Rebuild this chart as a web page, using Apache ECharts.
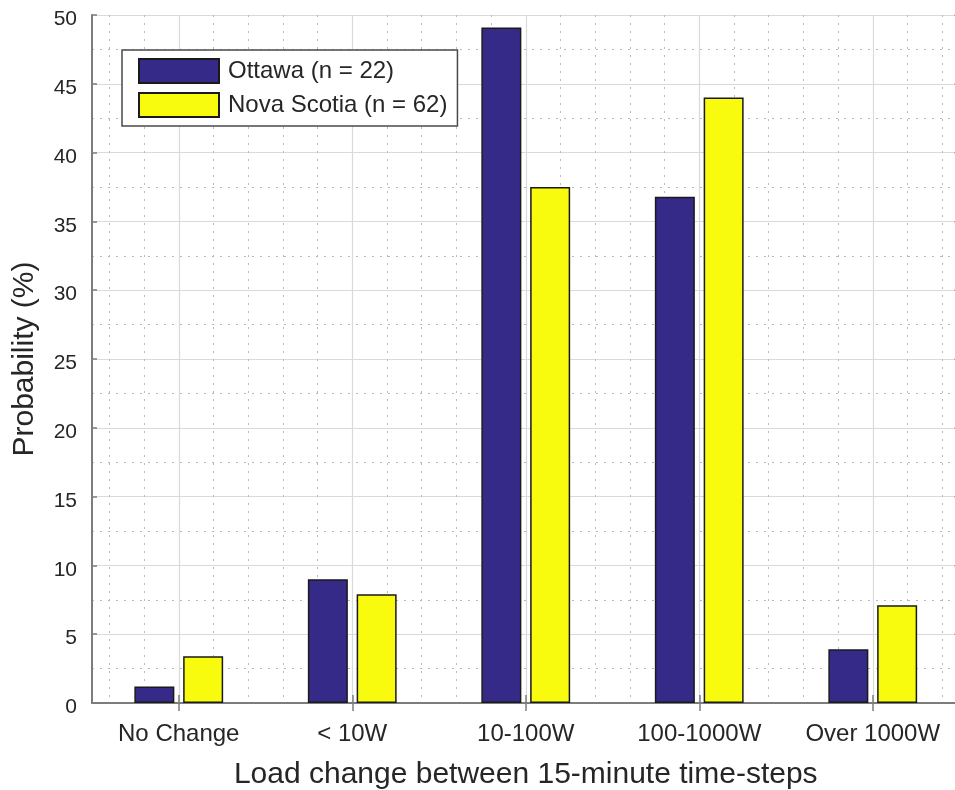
<!DOCTYPE html>
<html>
<head>
<meta charset="utf-8">
<script src="https://cdn.jsdelivr.net/npm/echarts@6/dist/echarts.min.js"></script>
<style>
html,body{margin:0;padding:0;background:#fff;overflow:hidden;}
#chart{width:955px;height:790px;}
</style>
</head>
<body>
<div id="chart"></div>
<script>
var categories = ['No Change', '< 10W', '10-100W', '100-1000W', 'Over 1000W'];
var seriesNames = ['Ottawa (n = 22)', 'Nova Scotia (n = 62)'];
var ottawa = [1.2, 9.0, 49.1, 36.8, 3.9];
var novaScotia = [3.4, 7.9, 37.5, 44.0, 7.1];
var yTicks = {min: 0, max: 50, interval: 5};
var xTitle = 'Load change between 15-minute time-steps';
var yTitle = 'Probability (%)';

var FONT = '"Liberation Sans", Arial, Helvetica, sans-serif';
var TXT = '#262626';
var AX = '#7d7d7d';
var GRIDC = '#dadada';
var MINORC = '#b8b8b8';

var plotLeft = 92, plotTop = 15, plotH = 688;
var band = 173.5;
var plotW = band * categories.length;

var chart = echarts.init(document.getElementById('chart'), null, {renderer: 'canvas'});

var hiddenAxis = {show: true, axisLine: {show: false}, axisTick: {show: false}, axisLabel: {show: false}};

function gridAt(left, width) {
  return {left: left, top: plotTop, width: width, height: plotH, containLabel: false, outerBoundsMode: 'none'};
}

var option = {
  animation: false,
  backgroundColor: '#ffffff',
  textStyle: {fontFamily: FONT},
  grid: [
    gridAt(plotLeft, plotW),
    gridAt(plotLeft + band * 0.1, band * 4.8),
    gridAt(plotLeft + band * 0.5, band * 4)
  ],
  legend: {
    data: seriesNames,
    orient: 'vertical',
    left: 122,
    top: 50,
    padding: [8, 10, 8, 16],
    itemWidth: 80,
    itemHeight: 24,
    itemGap: 8,
    icon: 'rect',
    backgroundColor: '#ffffff',
    borderColor: '#4a4a4a',
    borderWidth: 1.5,
    textStyle: {fontSize: 24, color: TXT, fontFamily: FONT, padding: [0, 0, 0, 4]}
  },
  xAxis: [
    {
      type: 'category', gridIndex: 0, position: 'bottom', data: categories, boundaryGap: true,
      axisLine: {show: true, lineStyle: {color: AX, width: 2}},
      axisTick: {show: true, inside: true, alignWithLabel: true, length: 8, lineStyle: {color: AX, width: 1.5}},
      axisLabel: {show: true, interval: 0, hideOverlap: false, fontSize: 24, color: TXT, margin: 19, fontFamily: FONT},
      splitLine: {show: false},
      name: xTitle, nameLocation: 'middle', nameGap: 57,
      nameTextStyle: {fontSize: 30, color: TXT, fontFamily: FONT}
    },
    {
      type: 'category', gridIndex: 0, position: 'top', data: categories, boundaryGap: true,
      axisLine: {show: true, lineStyle: {color: AX, width: 2}},
      axisTick: {show: true, inside: true, alignWithLabel: true, length: 8, interval: 0, lineStyle: {color: AX, width: 1.5}},
      axisLabel: {show: false, interval: 0},
      splitLine: {show: false}
    },
    Object.assign({
      type: 'value', gridIndex: 1, min: 0, max: 24, interval: 1,
      splitLine: {show: true, lineStyle: {color: MINORC, width: 1, type: [2, 6]}}
    }, hiddenAxis),
    Object.assign({
      type: 'value', gridIndex: 2, min: 0, max: 4, interval: 1,
      splitLine: {show: true, lineStyle: {color: GRIDC, width: 1.2, type: 'solid'}}
    }, hiddenAxis)
  ],
  yAxis: [
    {
      type: 'value', gridIndex: 0, position: 'left', min: yTicks.min, max: yTicks.max, interval: yTicks.interval,
      axisLine: {show: true, lineStyle: {color: AX, width: 2}},
      axisTick: {show: true, inside: true, length: 5, lineStyle: {color: AX, width: 1.5}},
      axisLabel: {
        show: true, fontSize: 21, color: TXT, margin: 15, fontFamily: FONT,
        formatter: '{v|{value}}',
        rich: {v: {fontSize: 21, color: TXT, fontFamily: FONT, padding: [9, 0, 0, 0]}}
      },
      splitLine: {show: true, lineStyle: {color: GRIDC, width: 1.2}},
      minorTick: {show: false, splitNumber: 2},
      minorSplitLine: {show: true, lineStyle: {color: MINORC, width: 1, type: [2, 6]}},
      name: yTitle, nameLocation: 'middle', nameGap: 52,
      nameTextStyle: {fontSize: 30, color: TXT, fontFamily: FONT}
    },
    {
      type: 'value', gridIndex: 0, position: 'right', min: yTicks.min, max: yTicks.max, interval: yTicks.interval,
      axisLine: {show: true, lineStyle: {color: AX, width: 2}},
      axisTick: {show: true, inside: true, length: 5, lineStyle: {color: AX, width: 1.5}},
      axisLabel: {show: false},
      splitLine: {show: false}
    },
    Object.assign({type: 'value', gridIndex: 1, min: 0, max: 1, splitLine: {show: false}}, hiddenAxis),
    Object.assign({type: 'value', gridIndex: 2, min: 0, max: 1, splitLine: {show: false}}, hiddenAxis)
  ],
  series: [
    {
      name: seriesNames[0], type: 'bar', xAxisIndex: 0, yAxisIndex: 0,
      data: ottawa, barWidth: 40, barGap: '22%',
      itemStyle: {color: '#352a87', borderColor: '#1a1a1a', borderWidth: 1.5},
      emphasis: {disabled: true}
    },
    {
      name: seriesNames[1], type: 'bar', xAxisIndex: 0, yAxisIndex: 0,
      data: novaScotia, barWidth: 40, barGap: '22%',
      itemStyle: {color: '#f9fb0e', borderColor: '#1a1a1a', borderWidth: 1.5},
      emphasis: {disabled: true}
    }
  ]
};
chart.setOption(option);
</script>
</body>
</html>
